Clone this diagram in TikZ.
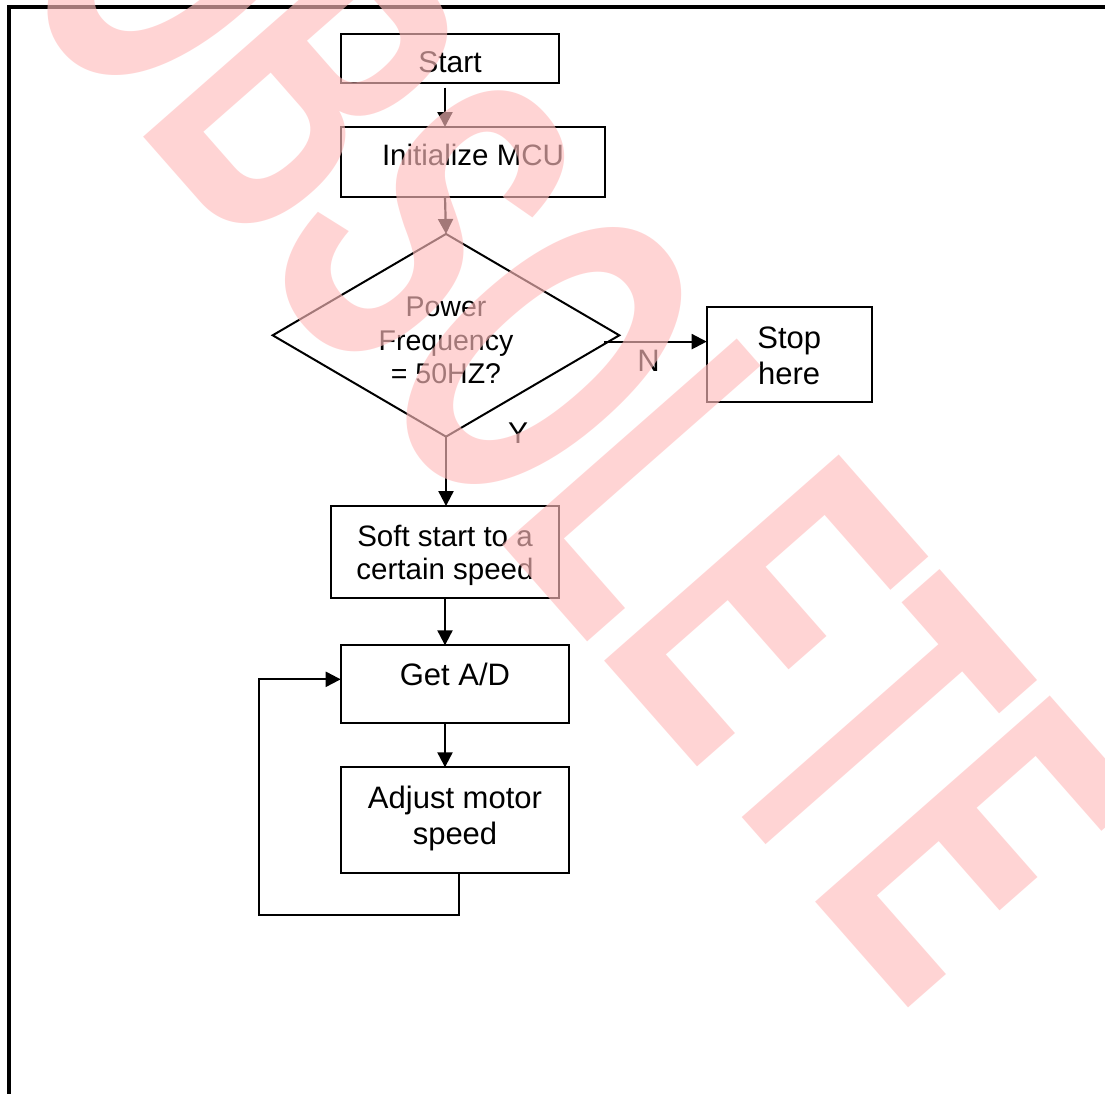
\documentclass[tikz,border=0pt]{standalone}
\usepackage{fontspec}
\setmainfont{Liberation Sans}
\newfontfamily\wmfont{Liberation Sans}
\usetikzlibrary{arrows.meta,shapes.geometric}
\definecolor{wmpink}{RGB}{255,189,189}
\newcommand{\mlines}[1]{\begin{tabular}[t]{@{}c@{}}#1\end{tabular}}
\begin{document}
\begin{tikzpicture}[x=1pt,y=-1pt,
  box/.style={draw, line width=2pt, rectangle, inner sep=0pt, outer sep=0pt, align=center},
  conn/.style={line width=2.2pt, -{Triangle[length=15pt,width=15pt]}},
  lbl/.style={inner sep=0pt, outer sep=0pt, text depth=0pt},
  frame/.style={line width=4pt},
  watermark/.style={inner sep=0pt, outer sep=0pt, anchor=base west, transform shape,
    text=wmpink, text opacity=0.64, font=\wmfont\bfseries\fontsize{100}{100}\selectfont}
]
\useasboundingbox (0,0) rectangle (1105,1093);
\clip (0,0) rectangle (1105,1093);
\fill[white] (0,0) rectangle (1105,1093);

% outer frame
\draw[frame] (9.2,1200) -- (9.2,7.3) -- (1200,7.3);

% column of the main arrows
\coordinate (colx) at (445,0);

% nodes
\node[box, minimum width=218pt, minimum height=49pt,
      font=\fontsize{30}{34}\selectfont, text height=27.6pt, text depth=0pt]
      (start) at (450,58.5) {Start};
\node[box, minimum width=264pt, minimum height=70pt,
      font=\fontsize{29.5}{34}\selectfont, text height=7.4pt, text depth=0pt]
      (init) at (473,162) {Initialize MCU};
\node[diamond, draw, line width=2pt, aspect=1.71, inner sep=0pt, outer sep=0pt,
      minimum width=346.6pt, minimum height=202.7pt,
      font=\fontsize{28.5}{33.5}\selectfont, text height=0pt, text depth=37pt]
      (dec) at (446,335.3) {\mlines{Power\\Frequency\\= 50HZ?}};
\node[box, minimum width=165pt, minimum height=94.4pt,
      font=\fontsize{31}{36}\selectfont, text height=0pt, text depth=12pt]
      (stop) at (789.2,354.5) {\mlines{Stop\\here}};
\node[box, minimum width=228.6pt, minimum height=92.3pt,
      font=\fontsize{29.5}{33.5}\selectfont, text height=0pt, text depth=12pt]
      (soft) at (445,552.2) {\mlines{Soft start to a\\certain speed}};
\node[box, minimum width=228.6pt, minimum height=78pt,
      font=\fontsize{31}{35}\selectfont, text height=2.4pt, text depth=0pt]
      (getad) at (455,684.3) {Get A/D};
\node[box, minimum width=228.6pt, minimum height=106pt,
      font=\fontsize{31}{36.6}\selectfont, text height=0pt, text depth=24.5pt]
      (adjust) at (455,820.3) {\mlines{Adjust motor\\speed}};

% connectors
\draw[conn] ([yshift=-4.7pt]start.south -| colx) -- (init.north -| colx);
\draw[conn] (init.south -| colx) -- (dec.north);
\draw[conn] ([shift={(-15,6.3)}]dec.east) coordinate (nstart) -- (nstart -| stop.west);
\draw[conn] (dec.south) -- (dec.south |- soft.north);
\draw[conn] (soft.south) -- (soft.south |- getad.north);
\draw[conn] (getad.south -| colx) -- (adjust.north -| colx);
\coordinate (loopcorner) at (259,915);
\draw[conn] ([xshift=4pt]adjust.south) |- (loopcorner) |- ([yshift=5pt]getad.west);

% branch labels
\node[lbl, font=\fontsize{31}{34}\selectfont] (nlabel) at (648.5,361) {N};
\node[lbl, font=\fontsize{30}{34}\selectfont] (ylabel) at (518,433.5) {Y};

% watermark
\begin{scope}[shift={(4,-22.4)}, rotate=-48.7, xscale=2.51, yscale=4.54]
  \node[watermark] (wm) at (0,0) {OBSOLETE};
\end{scope}
\end{tikzpicture}
\end{document}
